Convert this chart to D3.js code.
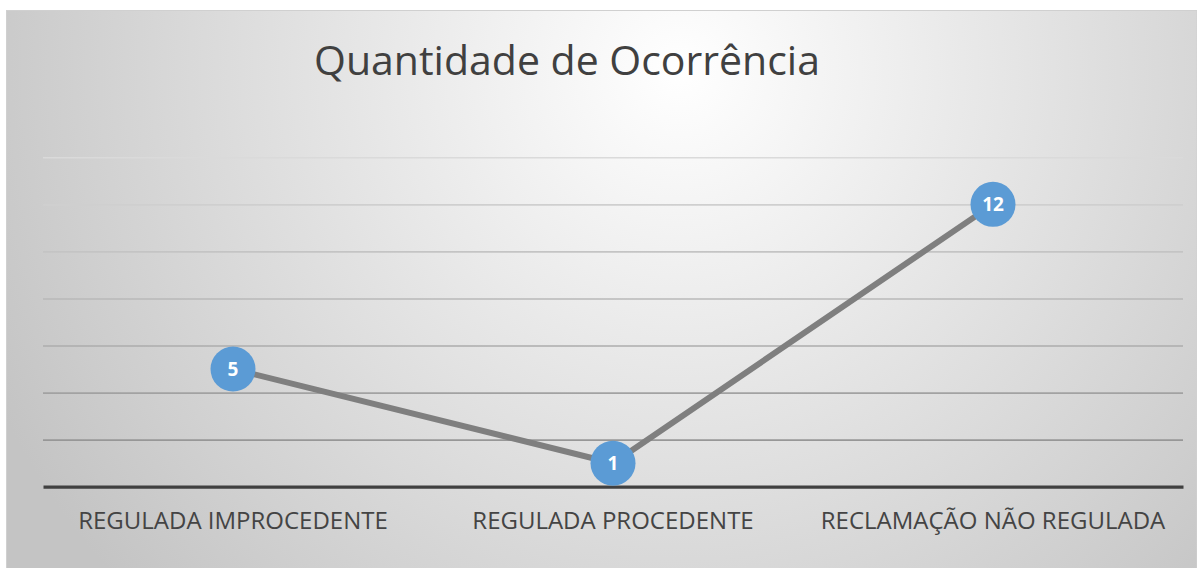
<!DOCTYPE html>
<html>
<head>
<meta charset="utf-8">
<script src="https://cdn.jsdelivr.net/npm/d3@7"></script>
<style>
  body { margin: 0; background: #fff; }
  svg { display: block; }
</style>
</head>
<body>
<svg id="drawing_region"></svg>
<script>
const title = "Quantidade de Ocorrência";
const categories = ["REGULADA IMPROCEDENTE", "REGULADA PROCEDENTE", "RECLAMAÇÃO NÃO REGULADA"];
const values = [5, 1, 12];
const yTicks = [0, 2, 4, 6, 8, 10, 12, 14];

const config = {
    width: 1197,
    height: 568,
    margin: {top: 157.3, right: 14, bottom: 81.3, left: 43}
};

const svg = d3.select('#drawing_region')
    .attr('width', config.width)
    .attr('height', config.height);

const inner_width = config.width - config.margin.left - config.margin.right;
const inner_height = config.height - config.margin.top - config.margin.bottom;

// background gradient
const defs = svg.append('defs');
const grad = defs.append('radialGradient')
    .attr('id', 'bg')
    .attr('gradientUnits', 'userSpaceOnUse')
    .attr('cx', 680).attr('cy', 70).attr('r', 760);
grad.append('stop').attr('offset', '0%').attr('stop-color', '#ffffff');
grad.append('stop').attr('offset', '100%').attr('stop-color', '#c4c4c4');

svg.append('rect')
    .attr('x', 6.5).attr('y', 10.5)
    .attr('width', config.width - 6.5).attr('height', config.height - 10)
    .attr('fill', 'url(#bg)')
    .attr('stroke', '#d0d0d0')
    .attr('stroke-width', 1);

svg.append('text')
    .attr('x', 567)
    .attr('y', 75)
    .attr('text-anchor', 'middle')
    .attr('font-family', '"Open Sans", sans-serif')
    .attr('font-size', '41px')
    .attr('fill', '#404040')
    .text(title);

const chart = svg.append('g')
    .attr('transform', `translate(${config.margin.left}, ${config.margin.top})`);

const xscale = d3.scaleBand()
    .domain(categories)
    .range([0, inner_width]);

const yscale = d3.scaleLinear()
    .domain([0, d3.max(yTicks)])
    .range([inner_height, 0]);

const gridColor = d3.scaleLinear()
    .domain([14, 2])
    .range(['#dadada', '#979797']);

// gridlines
const ygrid = chart.append('g')
    .call(d3.axisLeft(yscale).tickValues(yTicks.filter(d => d > 0)).tickSize(-inner_width).tickFormat(''));
ygrid.select('.domain').remove();
ygrid.selectAll('.tick line')
    .attr('stroke', d => gridColor(d))
    .attr('stroke-width', 1.6);

// category axis
const xaxis_group = chart.append('g')
    .attr('transform', `translate(0, ${inner_height})`)
    .call(d3.axisBottom(xscale).tickSize(0).tickPadding(25.5));
xaxis_group.select('.domain')
    .attr('stroke', '#404040')
    .attr('stroke-width', 3.2);
xaxis_group.selectAll('text')
    .attr('font-family', '"Open Sans", sans-serif')
    .attr('font-size', '24px')
    .attr('fill', '#444444');

const data = categories.map((c, i) => ({cat: c, value: values[i]}));

const line = d3.line()
    .x(d => xscale(d.cat) + xscale.bandwidth() / 2)
    .y(d => yscale(d.value));

chart.append('path')
    .attr('d', line(data))
    .attr('stroke', '#7f7f7f')
    .attr('stroke-width', 6)
    .attr('fill', 'none');

chart.selectAll('circle').data(data)
    .enter()
    .append('circle')
    .attr('cx', line.x())
    .attr('cy', line.y())
    .attr('r', 22.5)
    .attr('fill', '#5b9bd5');

chart.selectAll('.label').data(data)
    .enter()
    .append('text')
    .attr('class', 'label')
    .attr('x', line.x())
    .attr('y', d => yscale(d.value) + 7)
    .attr('text-anchor', 'middle')
    .attr('font-family', '"Open Sans", sans-serif')
    .attr('font-weight', 'bold')
    .attr('font-size', '19px')
    .attr('fill', '#ffffff')
    .text(d => d.value);
</script>
</body>
</html>
